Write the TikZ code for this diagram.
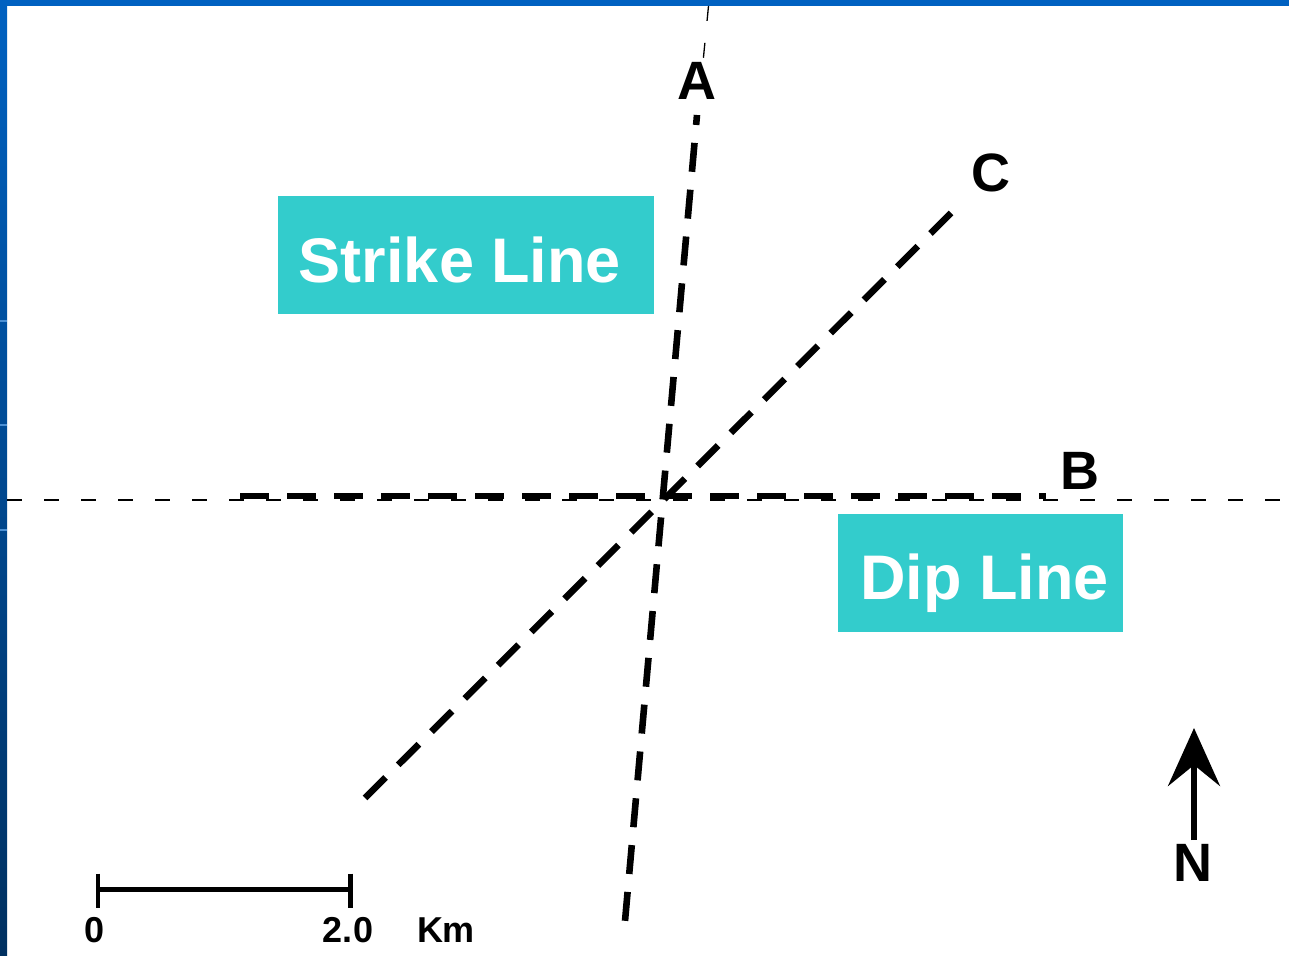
\documentclass[tikz,border=0pt]{standalone}
\usepackage{fontspec}
\setmainfont{Liberation Sans}
\usetikzlibrary{arrows.meta}
\definecolor{slideblue}{RGB}{0,97,193}
\definecolor{slidedark}{RGB}{0,48,96}
\definecolor{boxteal}{RGB}{51,204,204}
\tikzset{
  thickdash/.style={line width=6.6pt, dash pattern=on 29pt off 18pt},
  thindash/.style={line width=1.3pt, dash pattern=on 15pt off 22pt},
  tealbox/.style={fill=boxteal, text=white, inner sep=0pt, minimum height=118pt,
    text height=54.5pt, text depth=0pt, font=\fontsize{63}{70}\selectfont\bfseries},
  letter/.style={inner sep=0pt, font=\fontsize{54}{60}\selectfont\bfseries},
  scalelbl/.style={inner sep=0pt, font=\fontsize{36}{40}\selectfont\bfseries},
}
\begin{document}
\begin{tikzpicture}[x=1pt,y=-1pt]
\useasboundingbox (0,0) rectangle (1289,955);
\fill[white] (0,0) rectangle (1289,955);
% slide frame
\shade[top color=slideblue, bottom color=slidedark] (0,0) rectangle (7,955);
\fill[slideblue] (0,0) rectangle (1289,6);
\foreach \yy in {320,424,529} \fill[slideblue!70!white] (0,\yy) rectangle (7,\yy+2);

% coordinates of the lines
\coordinate (Atop) at (708.5,6);
\coordinate (Athin) at (703.2,60);
\coordinate (Ahi) at (697,115);
\coordinate (Alo) at (625,921);
\coordinate (Cup) at (951,213);
\coordinate (Clo) at (363,800);
\coordinate (Bl) at (240,496);
\coordinate (Br) at (1046,496);
\coordinate (Hl) at (7,500);
\coordinate (Hr) at (1289,500);

% thin guide lines
\draw[thindash] (Hl) -- (Hr);
\draw[thindash] (Atop) -- (Athin);

% thick dashed lines
\draw[thickdash] (Bl) -- (Br);
\draw[thickdash, dash phase=19pt] (Ahi) -- (Alo);
\draw[thickdash] (Cup) -- (Clo);

% labels
\node[letter] (A) at (697,81) {A};
\node[letter] (B) at (1080,471) {B};
\node[letter] (C) at (991,173) {C};

% boxes
\node[tealbox, minimum width=376pt] (strike) at (466,255) {\hspace*{-12pt}Strike Line};
\node[tealbox, minimum width=285pt] (dip) at (980.5,572.5) {\hspace*{8pt}Dip Line};

% scale bar
\coordinate (s0) at (98,889.5);
\coordinate (s1) at (350.5,889.5);
\draw[line width=5pt] (s0) -- (s1);
\draw[line width=4.5pt] ([yshift=16pt]s0) -- ([yshift=-18pt]s0);
\draw[line width=4.5pt] ([yshift=16pt]s1) -- ([yshift=-18pt]s1);
\node[scalelbl] (z0) at (95,930) {0};
\node[scalelbl] (z2) at (348,930) {2.0};
\node[scalelbl] (km) at (446,930) {Km};

% north arrow
\node[letter] (N) at (1193,863) {N};
\coordinate (Ntip) at (1194,728);
\draw[line width=6pt, -{Stealth[length=58pt,width=52pt,inset=21pt]}] ([xshift=1pt,yshift=4pt]N.north) -- (Ntip);
\end{tikzpicture}
\end{document}
